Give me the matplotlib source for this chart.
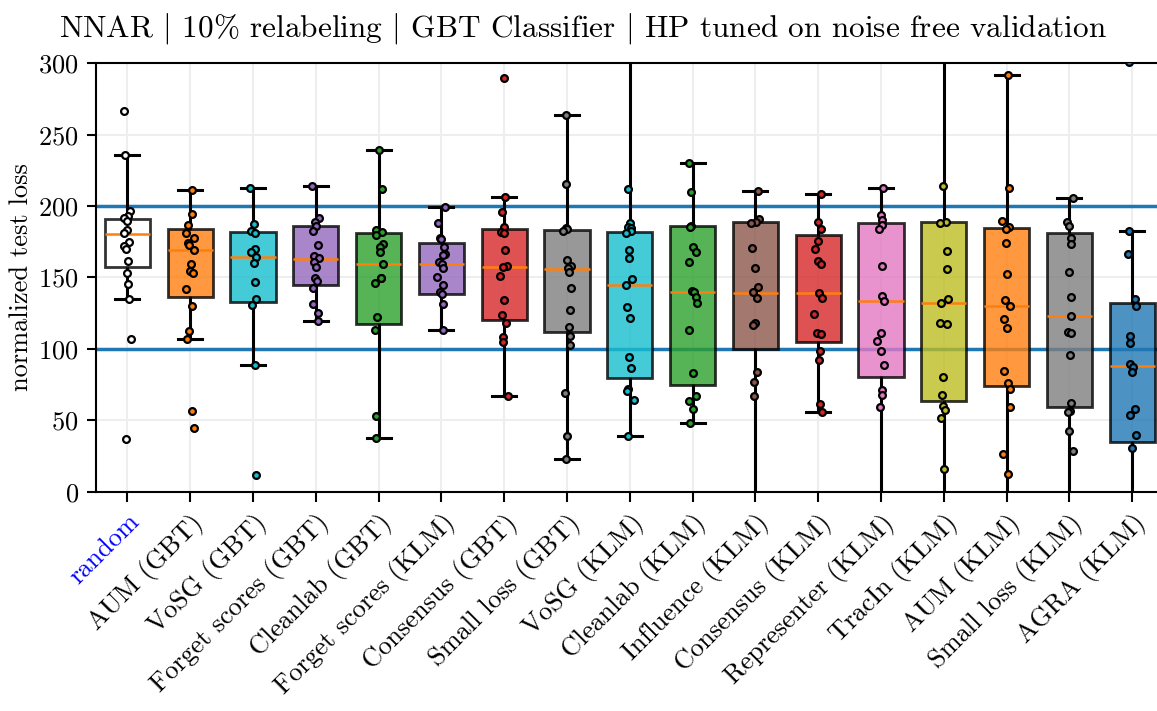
import numpy as np
import matplotlib
matplotlib.use('Agg')
from matplotlib import pyplot as plt

# methods and box colours
labels = ['random', 'AUM (GBT)', 'VoSG (GBT)', 'Forget scores (GBT)', 'Cleanlab (GBT)',
          'Forget scores (KLM)', 'Consensus (GBT)', 'Small loss (GBT)', 'VoSG (KLM)',
          'Cleanlab (KLM)', 'Influence (KLM)', 'Consensus (KLM)', 'Representer (KLM)',
          'TracIn (KLM)', 'AUM (KLM)', 'Small loss (KLM)', 'AGRA (KLM)']
colors = ['white', 'tab:orange', 'tab:cyan', 'tab:purple', 'tab:green', 'tab:purple',
          'tab:red', 'tab:gray', 'tab:cyan', 'tab:green', 'tab:brown', 'tab:red',
          'tab:pink', 'tab:olive', 'tab:orange', 'tab:gray', 'tab:blue']

# box statistics
q1  = [157.1, 136.1, 132.6, 144.8, 117.7, 138.5, 120.3, 112.1, 79.5, 74.8, 100.0, 104.7, 80.0, 63.2, 73.7, 59.2, 34.7]
med = [180.4, 169.0, 164.3, 162.9, 159.7, 159.4, 157.1, 156.2, 144.8, 140.1, 138.9, 138.9, 133.8, 132.4, 130.3, 123.1, 87.9]
q3  = [190.7, 183.9, 181.6, 186.0, 181.4, 174.1, 183.7, 183.0, 182.1, 186.2, 188.6, 179.7, 188.3, 189.0, 184.4, 181.4, 132.4]
wlo = [135.2, 107.2, 88.8, 119.8, 37.5, 113.1, 66.9, 22.8, 39.2, 48.0, -20, 55.5, -30, -40, -40, -30, -20]
whi = [235.7, 211.2, 212.8, 214.0, 239.6, 199.5, 206.5, 263.6, 320, 230.5, 210.5, 208.6, 212.8, 340, 292.1, 205.4, 182.8]

# individual runs
pts_random = [266.4, 235.7, 196.5, 193.0, 191.4, 189.7, 183.2, 180.9, 175.1, 172.3, 169.9, 161.8, 152.9, 145.7, 135.2, 107.2, 36.8]
pts_aum_gbt = [211.2, 194.2, 186.5, 181.4, 177.9, 174.4, 172.7, 169.2, 159.2, 154.5, 153.4, 142.0, 130.3, 112.6, 107.2, 56.4, 44.8]
pts_vosg_gbt = [212.8, 187.2, 182.5, 180.9, 169.7, 168.1, 164.6, 160.4, 147.1, 135.0, 130.8, 88.8, 11.9]
pts_forget_gbt = [214.0, 191.4, 188.6, 185.8, 182.8, 172.5, 165.0, 163.4, 160.6, 157.1, 149.9, 147.6, 142.9, 131.5, 124.9, 119.8]
pts_cleanlab_gbt = [239.6, 212.1, 183.2, 182.1, 179.7, 173.2, 171.1, 168.1, 159.7, 149.9, 149.4, 146.4, 122.6, 113.1, 52.7, 37.5]
pts_forget_klm = [199.5, 188.3, 177.9, 176.7, 171.3, 166.4, 165.7, 160.6, 159.2, 156.9, 150.6, 144.8, 140.1, 138.2, 131.7, 113.1]
pts_consensus_gbt = [290.0, 206.5, 196.0, 185.5, 182.1, 180.9, 169.2, 158.0, 157.1, 151.0, 134.3, 123.8, 118.4, 108.6, 105.1, 66.9]
pts_small_gbt = [263.6, 215.2, 184.4, 183.7, 182.8, 162.2, 158.0, 156.4, 153.6, 142.9, 127.3, 115.6, 109.3, 102.8, 68.8, 39.2, 22.8]
pts_vosg_klm = [211.7, 187.9, 185.5, 184.4, 182.5, 180.9, 169.2, 163.4, 148.7, 144.8, 129.6, 121.4, 94.6, 86.5, 72.0, 70.6, 63.9, 39.2]
pts_cleanlab_klm = [230.5, 210.0, 186.2, 185.5, 171.1, 168.1, 161.1, 140.6, 139.6, 136.6, 131.9, 113.1, 83.0, 66.7, 63.2, 57.8, 48.0]
pts_influence_klm = [210.5, 190.9, 189.0, 188.3, 170.9, 156.9, 143.1, 139.6, 135.4, 117.9, 116.8, 84.1, 76.7, 67.1]
pts_consensus_klm = [208.6, 189.0, 183.7, 175.8, 169.9, 161.5, 159.7, 139.2, 135.4, 124.2, 111.4, 110.3, 98.8, 92.1, 61.3, 55.5]
pts_representer_klm = [212.8, 193.7, 190.2, 186.7, 183.9, 158.3, 137.3, 133.6, 111.0, 105.6, 98.8, 88.8, 71.3, 67.8, 59.0]
pts_tracin_klm = [214.0, 189.0, 188.3, 168.8, 156.0, 134.7, 131.9, 117.9, 117.2, 80.0, 67.8, 59.7, 56.9, 51.5, 16.1]
pts_aum_klm = [292.1, 212.4, 189.5, 185.5, 183.9, 174.4, 152.2, 134.3, 130.3, 121.2, 114.9, 84.8, 76.0, 71.8, 59.0, 26.6, 12.6]
pts_small_klm = [205.4, 189.0, 186.2, 177.4, 173.2, 154.1, 136.6, 123.1, 112.1, 111.4, 95.8, 62.0, 56.6, 55.7, 42.2, 28.2]
pts_agra_klm = [301.0, 182.8, 166.4, 134.7, 130.3, 109.3, 104.4, 89.3, 87.6, 83.7, 57.8, 53.8, 39.9, 30.5]

points = [pts_random, pts_aum_gbt, pts_vosg_gbt, pts_forget_gbt, pts_cleanlab_gbt,
          pts_forget_klm, pts_consensus_gbt, pts_small_gbt, pts_vosg_klm, pts_cleanlab_klm,
          pts_influence_klm, pts_consensus_klm, pts_representer_klm, pts_tracin_klm,
          pts_aum_klm, pts_small_klm, pts_agra_klm]

ref_lines = [100, 200]

plt.rcParams['font.family'] = 'cmr10'
plt.rcParams['mathtext.fontset'] = 'cm'
plt.rcParams['axes.formatter.use_mathtext'] = True
plt.rcParams['axes.unicode_minus'] = False

fig = plt.figure(figsize=(11.57, 7.11), dpi=100)
ax = fig.add_axes([96/1157, 1-491.7/711, 1067.6/1157, 428.4/711])

pos = np.arange(1, len(labels)+1)
stats = [dict(q1=a, med=m, q3=b, whislo=lo, whishi=hi, fliers=[])
         for a, m, b, lo, hi in zip(q1, med, q3, wlo, whi)]
bp = ax.bxp(stats, positions=pos, widths=0.72, capwidths=0.38, patch_artist=True,
            showfliers=False,
            boxprops=dict(linewidth=2.0, edgecolor='black'),
            whiskerprops=dict(linewidth=2.2, color='black'),
            capprops=dict(linewidth=2.2, color='black'),
            medianprops=dict(linewidth=1.8, color='tab:orange'))
for patch, c in zip(bp['boxes'], colors):
    patch.set_facecolor(c)
    patch.set_alpha(0.8)
    patch.set_zorder(3)
for ln in bp['medians']:
    ln.set_zorder(4)

for y in ref_lines:
    ax.axhline(y, color='tab:blue', lw=2.5, zorder=1.5)

rng = np.random.default_rng(3)
for i, (vals, c) in enumerate(zip(points, colors)):
    xs = pos[i] + rng.uniform(-0.07, 0.07, len(vals))
    ax.scatter(xs, vals, s=24, facecolor=c, edgecolor='black', linewidths=1.6, zorder=5)

ax.set_xlim(0.5, 17.5)
ax.set_ylim(0, 300)
ax.set_yticks(range(0, 301, 50))
ax.set_xticks(pos)
ax.set_xticklabels(labels, rotation=45, ha='right', rotation_mode='anchor', fontsize=19)
ax.get_xticklabels()[0].set_color('blue')
ax.tick_params(axis='y', labelsize=19, width=1.5, length=6.5, pad=6)
ax.tick_params(axis='x', width=1.5, length=7, pad=6)
ax.grid(True, color='#eeeeee', lw=1.5, zorder=0)
ax.set_axisbelow(True)
for sp in ax.spines.values():
    sp.set_linewidth(1.5)
ax.set_ylabel('normalized test loss', fontsize=19, labelpad=4)
fig.text(583/1157, 1-36/711,
         r'NNAR $|$ 10% relabeling $|$ GBT Classifier $|$ HP tuned on noise free validation',
         fontsize=22.5, ha='center', va='baseline')

plt.savefig('out.png', dpi=100)
